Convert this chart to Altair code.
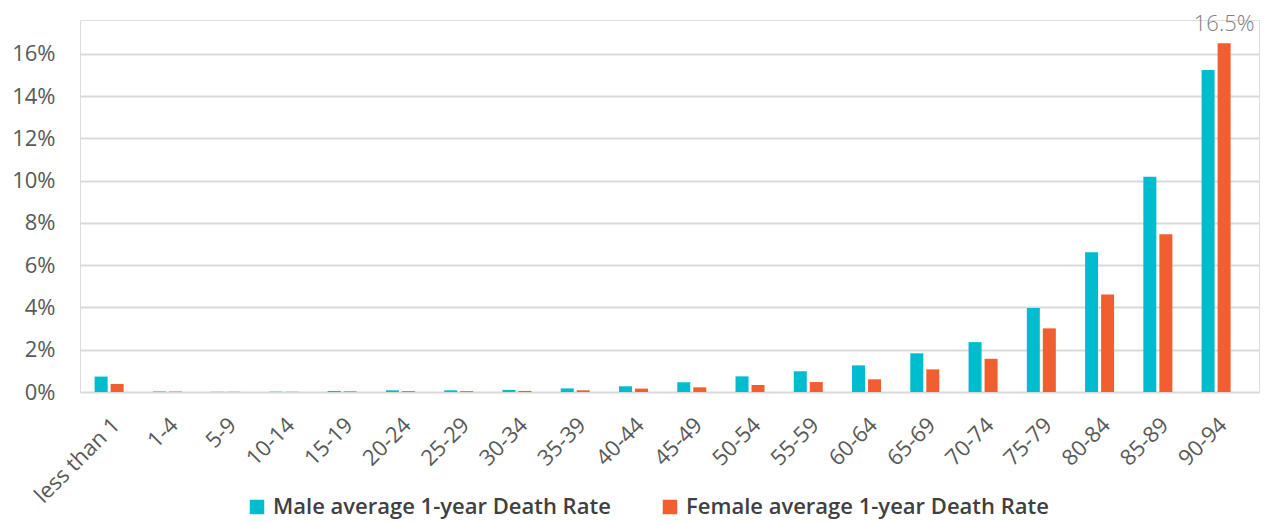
import altair as alt
import pandas as pd

# Age bands and average 1-year death rates (as fractions)
age_groups = ["less than 1", "1-4", "5-9", "10-14", "15-19", "20-24", "25-29",
              "30-34", "35-39", "40-44", "45-49", "50-54", "55-59", "60-64",
              "65-69", "70-74", "75-79", "80-84", "85-89", "90-94"]
male_rates = [0.0073, 0.00025, 0.0001, 0.00015, 0.0005, 0.0008, 0.0008,
              0.001, 0.0017, 0.0027, 0.0046, 0.0074, 0.0098, 0.0126,
              0.0183, 0.0236, 0.0398, 0.0661, 0.1018, 0.1524]
female_rates = [0.0038, 0.0002, 0.0001, 0.0001, 0.0003, 0.0004, 0.0004,
                0.0005, 0.0008, 0.0016, 0.0022, 0.0033, 0.0047, 0.0060,
                0.0107, 0.0157, 0.0301, 0.0461, 0.0746, 0.165]
series_names = ["Male average 1-year Death Rate", "Female average 1-year Death Rate"]
series_colors = ["#00BCCF", "#F15E2F"]

rows = []
for i, age in enumerate(age_groups):
    rows.append({"age": age, "series": series_names[0], "rate": male_rates[i]})
    rows.append({"age": age, "series": series_names[1], "rate": female_rates[i]})
df = pd.DataFrame(rows)

FONT = "Open Sans"

# band scale leaves a little extra room on the right for the value label
x_scale = alt.Scale(paddingInner=0.502, paddingOuter=0.369, align=0.34)
x_enc = alt.X("age:N", sort=age_groups, title=None, scale=x_scale,
              axis=alt.Axis(labelAngle=315, labelFontSize=22, labelColor="#595959",
                            labelFont=FONT, labelPadding=22, ticks=False,
                            domain=False, grid=False))
y_enc = alt.Y("rate:Q", title=None,
              scale=alt.Scale(domain=[0, 0.176], nice=False),
              axis=alt.Axis(values=[0, 0.02, 0.04, 0.06, 0.08, 0.10, 0.12, 0.14, 0.16],
                            format=".0%", labelFontSize=22, labelColor="#595959",
                            labelFont=FONT, labelPadding=25, ticks=False,
                            domain=False, grid=True, gridColor="#D9D9D9",
                            gridWidth=2))
xoff = alt.XOffset("series:N", sort=series_names,
                   scale=alt.Scale(paddingInner=0.1875, paddingOuter=0))

bars = alt.Chart(df).mark_bar().encode(
    x=x_enc,
    y=y_enc,
    xOffset=xoff,
    color=alt.Color("series:N", sort=series_names,
                    scale=alt.Scale(domain=series_names, range=series_colors),
                    legend=alt.Legend(title=None, orient="none", direction="horizontal",
                                      legendX=166, legendY=476,
                                      symbolType="square", symbolSize=210,
                                      symbolStrokeWidth=0,
                                      labelFont=FONT, labelFontSize=22,
                                      labelFontWeight=600, labelColor="#404040",
                                      labelOffset=5, columnPadding=48,
                                      labelLimit=600)),
)

peak = alt.Chart(df).transform_filter(
    (alt.datum.age == "90-94") & (alt.datum.series == series_names[1])
).mark_text(baseline="bottom", dy=-7, font=FONT, fontSize=22, fontWeight=300,
            color="#808080").encode(
    x=alt.X("age:N", sort=age_groups, scale=x_scale),
    xOffset=xoff,
    y="rate:Q",
    text=alt.Text("rate:Q", format=".1%"),
)

chart = alt.layer(bars, peak).properties(
    width=1179, height=372,
    autosize=alt.AutoSizeParams(type="none"),
    padding={"left": 80, "top": 20, "right": 8, "bottom": 131},
).configure_view(stroke=None).configure(background="white")

chart.save("out.html", embed_options={"renderer": "svg", "actions": False})
